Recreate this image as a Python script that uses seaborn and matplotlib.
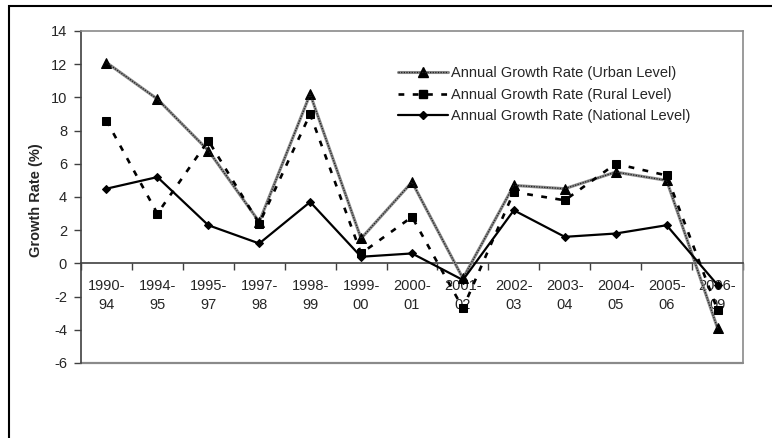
import matplotlib
matplotlib.use("Agg")
import matplotlib.pyplot as plt
import matplotlib.patches as mpatches
from matplotlib.lines import Line2D
from matplotlib.ticker import FixedLocator, NullFormatter
import seaborn as sns
import pandas as pd
import numpy as np

# Periods and annual growth rates (%)
periods = ["1990-94", "1994-95", "1995-97", "1997-98", "1998-99", "1999-00",
           "2000-01", "2001-02", "2002-03", "2003-04", "2004-05", "2005-06", "2006-09"]
urban = [12.1, 9.9, 6.8, 2.5, 10.2, 1.5, 4.9, -0.9, 4.7, 4.5, 5.5, 5.0, -3.9]
rural = [8.6, 3.0, 7.4, 2.4, 9.0, 0.6, 2.8, -2.7, 4.3, 3.8, 6.0, 5.3, -2.8]
national = [4.5, 5.2, 2.3, 1.2, 3.7, 0.4, 0.6, -1.0, 3.2, 1.6, 1.8, 2.3, -1.3]
tick_labels = [p.replace("-", "-\n") for p in periods]
yticks = list(range(-6, 15, 2))

label_urban = "Annual Growth Rate (Urban Level)"
label_rural = "Annual Growth Rate (Rural Level)"
label_national = "Annual Growth Rate (National Level)"

sns.set_style("white")
plt.rcParams["font.family"] = ["Liberation Sans", "DejaVu Sans"]
plt.rcParams["font.size"] = 10.5

df = pd.DataFrame({"period": periods, "urban": urban, "rural": rural, "national": national})
df["pos"] = np.arange(len(periods))

fig = plt.figure(figsize=(7.72, 4.38), dpi=100)
ax = fig.add_axes([81 / 772, 1 - 363 / 438, (743 - 81) / 772, (363 - 31) / 438])

urban_base = dict(color="#8c8c8c", lw=2.2)
urban_dots = dict(color="#202020", lw=0.9, ls=(0, (1, 1.1)))

# Urban: grey textured line with black triangles
sns.lineplot(data=df, x="pos", y="urban", ax=ax, **urban_base,
             marker="^", markersize=7, markerfacecolor="black",
             markeredgecolor="black", zorder=3)
ax.plot(df["pos"], df["urban"], zorder=3.5, **urban_dots)

# Rural: bold dashed line with squares
sns.lineplot(data=df, x="pos", y="rural", ax=ax, color="black", lw=1.9,
             marker="s", markersize=5.5, markerfacecolor="black",
             markeredgecolor="black", zorder=4)
ax.lines[-1].set_dashes((2.2, 3.2))

# National: solid line with diamonds
sns.lineplot(data=df, x="pos", y="national", ax=ax, color="black", lw=1.6,
             marker="D", markersize=4.5, markerfacecolor="black",
             markeredgecolor="black", zorder=5)

n = len(periods)
ax.set_xlim(-0.5, n - 0.5)
ax.set_ylim(-6, 14)
ax.set_xlabel("")
ax.set_ylabel("Growth Rate (%)", fontweight="bold", fontsize=10.5)
ax.yaxis.set_label_coords((43 - 81) / 662, (363 - 200) / 332)

# y axis
ax.set_yticks(yticks)
ax.set_yticklabels([str(v) for v in yticks])
ax.tick_params(axis="y", direction="out", length=5, width=1, color="#404040", pad=5, left=True)

# x axis sits on zero, ticks on category boundaries, labels at centres
ax.spines["bottom"].set_position(("data", 0))
ax.xaxis.set_major_locator(FixedLocator(np.arange(-0.5, n, 1.0)))
ax.xaxis.set_major_formatter(NullFormatter())
ax.xaxis.set_minor_locator(FixedLocator(np.arange(n)))
ax.set_xticklabels(tick_labels, minor=True, linespacing=1.45)
ax.tick_params(axis="x", which="major", direction="out", length=5, width=1, color="#404040", bottom=True)
ax.tick_params(axis="x", which="minor", length=0, pad=11, bottom=True)

for side in ["top", "right"]:
    ax.spines[side].set_color("#8a8a8a")
    ax.spines[side].set_linewidth(1.2)
ax.spines["left"].set_color("#404040")
ax.spines["left"].set_linewidth(1.2)
ax.spines["bottom"].set_color("#404040")
ax.spines["bottom"].set_linewidth(1.2)
ax.axhline(-6, color="#8a8a8a", lw=1.6, clip_on=False, zorder=1)

# Legend
h_urban = (Line2D([], [], marker="^", markersize=7, markerfacecolor="black",
                  markeredgecolor="black", **urban_base),
           Line2D([], [], **urban_dots))
h_rural = Line2D([], [], color="black", lw=1.9, dashes=(2.2, 3.2), marker="s",
                 markersize=5.5, markerfacecolor="black", markeredgecolor="black")
h_nat = Line2D([], [], color="black", lw=1.6, marker="D", markersize=4.5,
               markerfacecolor="black", markeredgecolor="black")
leg = ax.legend([h_urban, h_rural, h_nat], [label_urban, label_rural, label_national],
                loc="upper left", bbox_to_anchor=(398 / 772, 1 - 66.5 / 438),
                bbox_transform=fig.transFigure, frameon=False, borderaxespad=0,
                borderpad=0, handlelength=3.4, handletextpad=0.2, labelspacing=0.5,
                fontsize=10.5)

# Outer frame of the chart area
frame = mpatches.Rectangle((9 / 772, -0.2), 1.2, 1.2 - 5.5 / 438, transform=fig.transFigure,
                           fill=False, edgecolor="black", lw=1.5, clip_on=False)
fig.patches.append(frame)

fig.savefig("out.png", dpi=100)
